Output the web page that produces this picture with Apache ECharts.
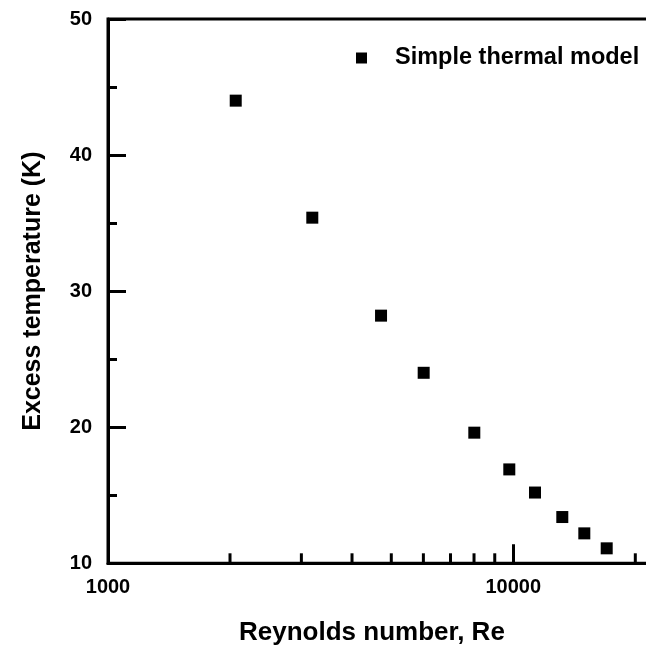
<!DOCTYPE html>
<html>
<head>
<meta charset="utf-8">
<script src="https://cdn.jsdelivr.net/npm/echarts@6/dist/echarts.min.js"></script>
<style>
html,body{margin:0;padding:0;background:#fff;}
#chart{width:646px;height:654px;}
</style>
</head>
<body>
<div id="chart"></div>
<script>
// Data
var reynolds = [2066, 3192, 4717, 6010, 8013, 9775, 11312, 13210, 14970, 17000];
var excessTemp = [44.0, 35.4, 28.2, 24.0, 19.6, 16.9, 15.2, 13.4, 12.2, 11.1];
var seriesName = 'Simple thermal model';
var xMinorTicks = [2000, 3000, 4000, 5000, 6000, 7000, 8000, 9000, 20000, 30000, 40000, 50000, 60000, 70000, 80000, 90000];
var yTicks = [10, 20, 30, 40, 50];

var FONT = "'Liberation Sans', Arial, sans-serif";
var chart = echarts.init(document.getElementById('chart'), null, {renderer: 'canvas'});

var points = reynolds.map(function (r, i) { return [r, excessTemp[i]]; });
var minorPts = xMinorTicks.map(function (v) { return [v, yTicks[0]]; });

chart.setOption({
  animation: false,
  backgroundColor: '#fff',
  grid: {
    left: 108, top: 19, width: 810.6, bottom: 90.7,
    outerBoundsMode: 'none', containLabel: false,
    show: true, borderColor: '#000', borderWidth: 3, backgroundColor: 'transparent'
  },
  legend: {
    data: [seriesName],
    left: 351, top: 41,
    icon: 'rect', itemWidth: 11, itemHeight: 11,
    itemStyle: {opacity: 1},
    textStyle: {fontFamily: FONT, fontWeight: 'bold', fontSize: 23.5, color: '#000', lineHeight: 24, padding: [0, 0, 0, 23]}
  },
  xAxis: {
    type: 'log', logBase: 10, min: 1000, max: 100000,
    axisLine: {show: true, lineStyle: {color: '#000', width: 3}},
    axisTick: {show: true, inside: true, length: 19, lineStyle: {color: '#000', width: 3}},
    axisLabel: {fontFamily: FONT, fontWeight: 'bold', fontSize: 20, color: '#000', margin: 14,
      formatter: function (v) { return String(Math.round(v)); }},
    splitLine: {show: false}
  },
  yAxis: {
    type: 'value', min: yTicks[0], max: yTicks[yTicks.length - 1], interval: 10,
    name: 'Excess temperature (K)', nameLocation: 'middle', nameGap: 62,
    nameTextStyle: {fontFamily: FONT, fontWeight: 'bold', fontSize: 25, color: '#000'},
    axisLine: {show: true, lineStyle: {color: '#000', width: 3}},
    axisTick: {show: true, inside: true, length: 18, lineStyle: {color: '#000', width: 3}},
    minorTick: {show: true, splitNumber: 2, length: 9, lineStyle: {color: '#000', width: 3}},
    axisLabel: {fontFamily: FONT, fontWeight: 'bold', fontSize: 20, color: '#000', margin: 16},
    splitLine: {show: false}
  },
  graphic: [{
    type: 'text', left: 380 - 141, top: 620, z: 10,
    style: {text: 'Reynolds number, Re', font: 'bold 26px ' + FONT, fill: '#000'}
  }],
  series: [{
    name: seriesName, type: 'scatter', symbol: 'rect', symbolSize: 12,
    itemStyle: {color: '#000', opacity: 1}, data: points, z: 5
  }, {
    name: 'minorTicks', type: 'scatter', symbol: 'rect', symbolSize: [3, 10], symbolOffset: [0, -5],
    itemStyle: {color: '#000', opacity: 1}, data: minorPts, clip: false, silent: true, z: 4
  }]
});
</script>
</body>
</html>
